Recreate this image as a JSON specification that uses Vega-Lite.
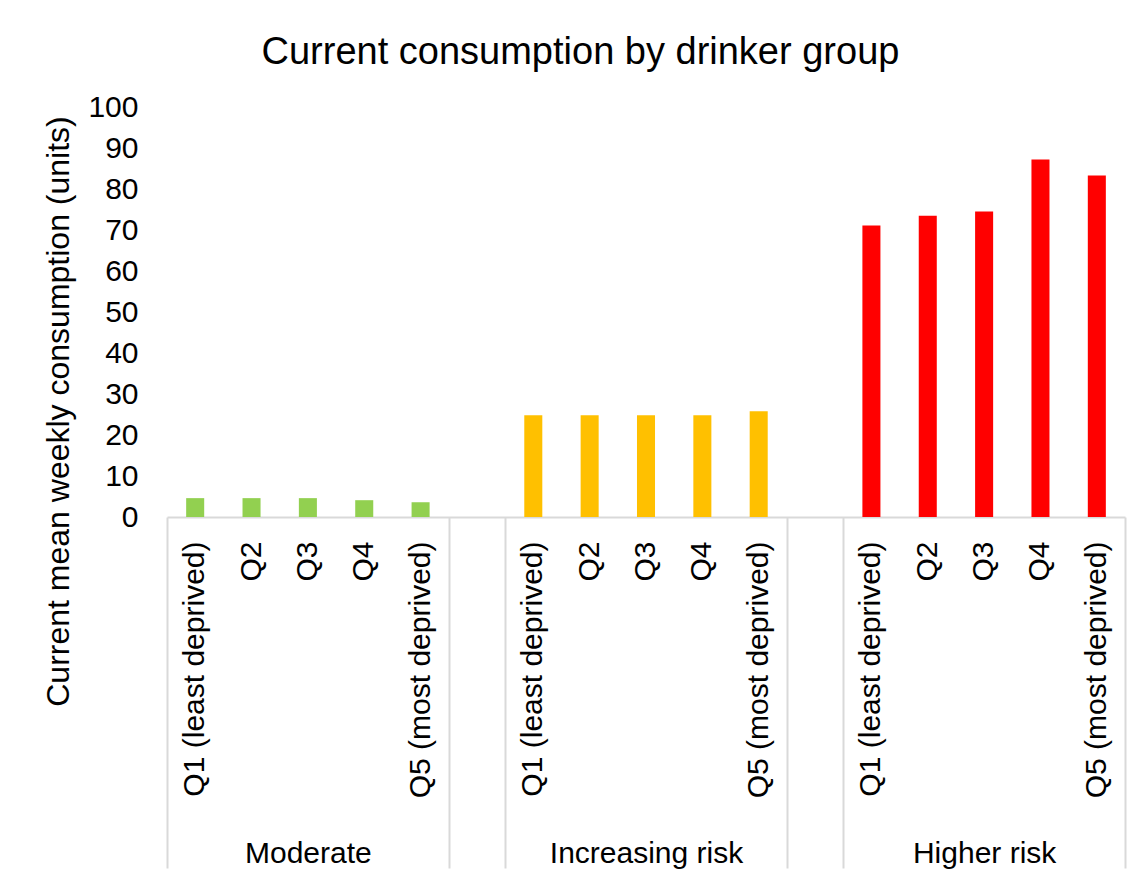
{
  "$schema": "https://vega.github.io/schema/vega-lite/v6.json",
  "width": 958,
  "height": 410,
  "autosize": {"type": "none"},
  "padding": {"left": 167, "top": 107, "right": 16, "bottom": 361},
  "background": "white",
  "title": {
    "text": "Current consumption by drinker group",
    "fontSize": 38,
    "font": "Liberation Sans",
    "fontWeight": "normal",
    "color": "#000000",
    "anchor": "middle",
    "frame": "bounds",
    "baseline": "alphabetic",
    "offset": -10,
    "dx": -4
  },
  "data": {
    "values": [
      {"key": "Moderate|Q1  (least deprived)", "group": "Moderate", "value": 4.6},
      {"key": "Moderate|Q2", "group": "Moderate", "value": 4.6},
      {"key": "Moderate|Q3", "group": "Moderate", "value": 4.6},
      {"key": "Moderate|Q4", "group": "Moderate", "value": 4.1},
      {"key": "Moderate|Q5 (most deprived)", "group": "Moderate", "value": 3.6},
      {"key": "Increasing risk|Q1  (least deprived)", "group": "Increasing risk", "value": 24.8},
      {"key": "Increasing risk|Q2", "group": "Increasing risk", "value": 24.8},
      {"key": "Increasing risk|Q3", "group": "Increasing risk", "value": 24.8},
      {"key": "Increasing risk|Q4", "group": "Increasing risk", "value": 24.8},
      {"key": "Increasing risk|Q5 (most deprived)", "group": "Increasing risk", "value": 25.8},
      {"key": "Higher risk|Q1  (least deprived)", "group": "Higher risk", "value": 71.1},
      {"key": "Higher risk|Q2", "group": "Higher risk", "value": 73.5},
      {"key": "Higher risk|Q3", "group": "Higher risk", "value": 74.5},
      {"key": "Higher risk|Q4", "group": "Higher risk", "value": 87.2},
      {"key": "Higher risk|Q5 (most deprived)", "group": "Higher risk", "value": 83.3}
    ]
  },
  "layer": [
    {
      "mark": {"type": "bar", "width": {"band": 0.32}},
      "encoding": {
        "x": {
          "field": "key",
          "type": "nominal",
          "sort": null,
          "scale": {
            "domain": [
              "Moderate|Q1  (least deprived)", "Moderate|Q2", "Moderate|Q3", "Moderate|Q4", "Moderate|Q5 (most deprived)",
              "gap1",
              "Increasing risk|Q1  (least deprived)", "Increasing risk|Q2", "Increasing risk|Q3", "Increasing risk|Q4", "Increasing risk|Q5 (most deprived)",
              "gap2",
              "Higher risk|Q1  (least deprived)", "Higher risk|Q2", "Higher risk|Q3", "Higher risk|Q4", "Higher risk|Q5 (most deprived)"
            ],
            "paddingInner": 0,
            "paddingOuter": 0
          },
          "axis": {
            "title": null,
            "orient": "bottom",
            "domain": true,
            "domainColor": "#d9d9d9",
            "domainWidth": 2,
            "ticks": false,
            "grid": false,
            "labelAngle": -90,
            "labelAlign": "right",
            "labelBaseline": "middle",
            "labelPadding": 24,
            "labelLimit": 0,
            "labelOverlap": false,
            "labelExpr": "indexof(datum.label, '|') >= 0 ? split(datum.label, '|')[1] : ''"
          }
        },
        "y": {
          "field": "value",
          "type": "quantitative",
          "scale": {"domain": [0, 100], "nice": false},
          "axis": {
            "title": "Current  mean weekly consumption (units)",
            "values": [0, 10, 20, 30, 40, 50, 60, 70, 80, 90, 100],
            "grid": false,
            "domain": false,
            "ticks": false,
            "labelPadding": 29,
            "titlePadding": 12,
            "titleFontSize": 32,
            "titleY": 304
          }
        },
        "color": {
          "field": "group",
          "type": "nominal",
          "scale": {
            "domain": ["Moderate", "Increasing risk", "Higher risk"],
            "range": ["#92d050", "#ffc000", "#ff0000"]
          },
          "legend": null
        }
      }
    },
    {
      "mark": {"type": "bar", "width": {"band": 0.32}, "opacity": 0},
      "encoding": {
        "x": {
          "field": "key",
          "type": "nominal",
          "sort": null,
          "axis": {
            "title": null,
            "orient": "bottom",
            "domain": false,
            "ticks": true,
            "tickBand": "extent",
            "tickSize": 351,
            "tickWidth": 2,
            "tickColor": "#d9d9d9",
            "tickOpacity": {
              "condition": {
                "test": "!isValid(datum.value) || indexof(['Moderate|Q5 (most deprived)', 'gap1', 'Increasing risk|Q5 (most deprived)', 'gap2', 'Higher risk|Q5 (most deprived)'], datum.value) >= 0",
                "value": 1
              },
              "value": 0
            },
            "grid": false,
            "labelAngle": 0,
            "labelAlign": "center",
            "labelBaseline": "top",
            "labelPadding": -30,
            "labelLimit": 0,
            "labelOverlap": false,
            "labelExpr": "indexof(datum.label, 'Q3') >= 0 ? split(datum.label, '|')[0] : ''"
          }
        },
        "y": {"field": "value", "type": "quantitative"}
      }
    }
  ],
  "resolve": {"axis": {"x": "independent"}},
  "config": {
    "view": {"stroke": null},
    "axis": {
      "labelFont": "Liberation Sans",
      "labelFontSize": 30,
      "labelColor": "#000000",
      "titleFont": "Liberation Sans",
      "titleFontSize": 30,
      "titleFontWeight": "normal",
      "titleColor": "#000000"
    }
  }
}
